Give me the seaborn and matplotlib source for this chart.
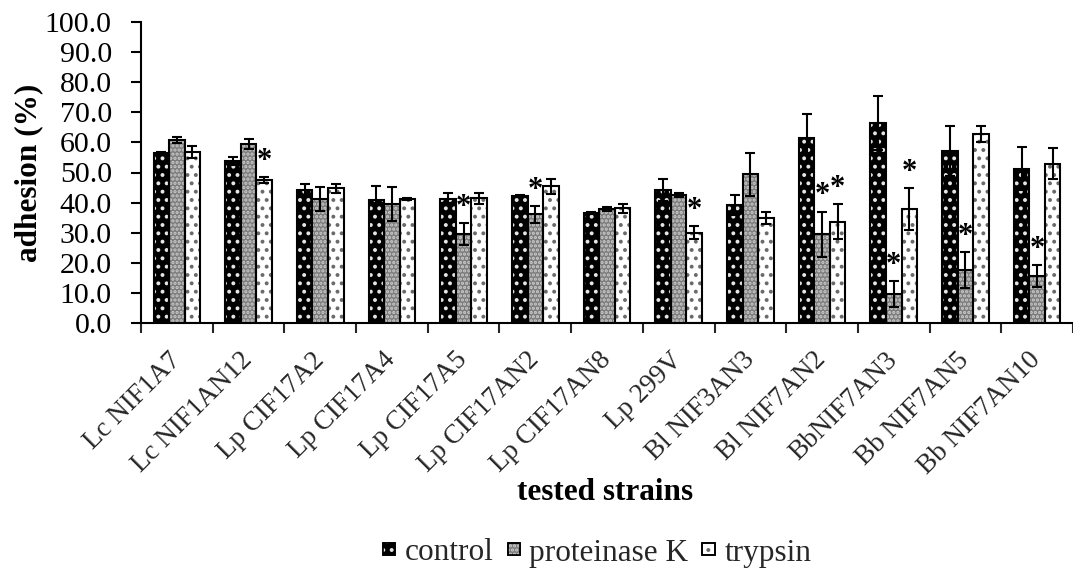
import matplotlib
matplotlib.use("Agg")
import matplotlib.pyplot as plt
from matplotlib.patches import Patch, Rectangle
from matplotlib.legend_handler import HandlerTuple
from matplotlib.ticker import FixedLocator, FormatStrFormatter, NullFormatter
import pandas as pd
import seaborn as sns

# ---- data -------------------------------------------------------------
strains = ["Lc NIF1A7", "Lc NIF1AN12", "Lp CIF17A2", "Lp CIF17A4", "Lp CIF17A5",
           "Lp CIF17AN2", "Lp CIF17AN8", "Lp 299V", "Bl NIF3AN3", "Bl NIF7AN2",
           "BbNIF7AN3", "Bb NIF7AN5", "Bb NIF7AN10"]
treatments = ["control", "proteinase K", "trypsin"]

control_mean = [56.4, 53.9, 44.2, 41.0, 41.2, 42.3, 36.6, 44.2, 39.2, 61.4, 66.4, 57.0, 51.3]
control_sd = [0.3, 1.3, 2.0, 4.4, 1.9, 0.3, 0.3, 3.7, 3.4, 8.0, 9.0, 8.3, 7.2]
protk_mean = [60.8, 59.4, 41.1, 39.5, 29.5, 36.1, 37.9, 42.5, 49.4, 29.5, 9.6, 17.6, 15.6]
protk_sd = [0.9, 1.7, 4.0, 5.6, 3.7, 2.8, 0.6, 0.8, 7.1, 7.5, 4.4, 5.9, 3.7]
trypsin_mean = [56.7, 47.5, 44.7, 41.2, 41.4, 45.4, 38.1, 30.0, 34.9, 33.6, 37.9, 62.8, 52.9]
trypsin_sd = [2.0, 1.0, 1.4, 0.3, 1.7, 2.4, 1.5, 2.2, 1.9, 5.8, 7.0, 2.7, 5.1]

# significant difference from control (marked with *)
control_signif = [0] * 13
protk_signif = [0, 0, 0, 0, 1, 1, 0, 0, 0, 1, 1, 1, 1]
trypsin_signif = [0, 1, 0, 0, 0, 0, 0, 1, 0, 1, 1, 0, 0]

yticks = [0, 10, 20, 30, 40, 50, 60, 70, 80, 90, 100]

means = [control_mean, protk_mean, trypsin_mean]
sds = [control_sd, protk_sd, trypsin_sd]
signif = [control_signif, protk_signif, trypsin_signif]

df = pd.DataFrame({
    "strain": strains * 3,
    "treatment": [t for t in treatments for _ in strains],
    "adhesion": control_mean + protk_mean + trypsin_mean,
})

# ---- style ------------------------------------------------------------
sns.set_theme(style="ticks")
plt.rcParams["font.family"] = ["Liberation Serif", "DejaVu Serif"]
plt.rcParams["hatch.linewidth"] = 1.6

face = {"control": "#000000", "proteinase K": "#7c7c7c", "trypsin": "#ffffff"}
hatch = {"control": "..", "proteinase K": "....", "trypsin": ".."}
hatch_col = {"control": "#e6e6e6", "proteinase K": "#cccccc", "trypsin": "#6a6a6a"}

W, H = 1073, 574
fig = plt.figure(figsize=(W / 100, H / 100), dpi=100)
ax = fig.add_axes([141 / W, 1 - 323 / H, (1073 - 141) / W, (323 - 22) / H])

sns.barplot(data=df, x="strain", y="adhesion", hue="treatment",
            order=strains, hue_order=treatments, palette=face,
            width=0.65, errorbar=None, linewidth=0, legend=False, ax=ax)

edge_lw = 1.5
for t, cont, m, s, sig in zip(treatments, ax.containers, means, sds, signif):
    xs = []
    for p in cont.patches:
        p.set_hatch(hatch[t])
        p.set_edgecolor(hatch_col[t])
        p.set_linewidth(0)
        ax.add_patch(Rectangle(p.get_xy(), p.get_width(), p.get_height(),
                               fill=False, edgecolor="black", linewidth=edge_lw,
                               zorder=p.get_zorder() + 0.1))
        xs.append(p.get_x() + p.get_width() / 2)
    ax.errorbar(xs, m, yerr=s, fmt="none", ecolor="black", elinewidth=1.5,
                capsize=3.8, capthick=1.5, zorder=4)
    for x, v, e, flag in zip(xs, m, s, sig):
        if flag:
            ax.annotate("*", xy=(x, v + e), xytext=(0, 6), textcoords="offset points",
                        ha="center", va="baseline", fontsize=22, fontweight="bold",
                        color="black", zorder=5)

# ---- axes -------------------------------------------------------------
ax.set_ylim(0, 100)
ax.set_xlim(-0.5, len(strains) - 0.5)
ax.yaxis.set_major_locator(FixedLocator(yticks))
ax.yaxis.set_major_formatter(FormatStrFormatter("%.1f"))
ax.tick_params(axis="y", direction="out", length=7, width=1.5, pad=14,
               labelsize=21.5, colors="black")

# ticks sit between categories, labels sit under categories
ax.xaxis.set_major_locator(FixedLocator([i - 0.5 for i in range(len(strains) + 1)]))
ax.xaxis.set_major_formatter(NullFormatter())
ax.xaxis.set_minor_locator(FixedLocator(list(range(len(strains)))))
ax.set_xticklabels(strains, minor=True)
ax.tick_params(axis="x", which="major", direction="out", length=7, width=1.5)
ax.tick_params(axis="x", which="minor", length=0, pad=24, labelsize=19.5)
for lab in ax.get_xticklabels(minor=True):
    lab.set_rotation(45)
    lab.set_ha("right")
    lab.set_va("center")
    lab.set_rotation_mode("anchor")

for side in ("top", "right"):
    ax.spines[side].set_visible(False)
for side in ("left", "bottom"):
    ax.spines[side].set_linewidth(1.5)
    ax.spines[side].set_color("black")

ax.set_xlabel("tested strains", fontsize=22.5, fontweight="bold", color="black")
ax.xaxis.set_label_coords((605 - 141) / (1073 - 141), (323 - 493) / 301)
ax.xaxis.label.set_va("center")
ax.set_ylabel("adhesion (%)", fontsize=22.5, fontweight="bold", color="black")
ax.yaxis.set_label_coords((29 - 141) / (1073 - 141), 0.5)
ax.yaxis.label.set_va("center")

# ---- legend -----------------------------------------------------------
handles = []
for t in treatments:
    base = Patch(facecolor=face[t], edgecolor="black", linewidth=1.2)
    pat = Patch(facecolor="none", edgecolor=hatch_col[t], linewidth=0, hatch=hatch[t])
    frame = Patch(facecolor="none", edgecolor="black", linewidth=1.2)
    handles.append((base, pat, frame))
fig.legend(handles, treatments, handler_map={tuple: HandlerTuple(ndivide=1)},
           loc="center", bbox_to_anchor=(597 / W, 1 - 553 / H), ncol=3,
           frameon=False, fontsize=22.5, handlelength=0.4, handleheight=0.22,
           handletextpad=0.3, columnspacing=0.45, borderpad=0, borderaxespad=0)

fig.savefig("out.png", dpi=100, facecolor="white")
